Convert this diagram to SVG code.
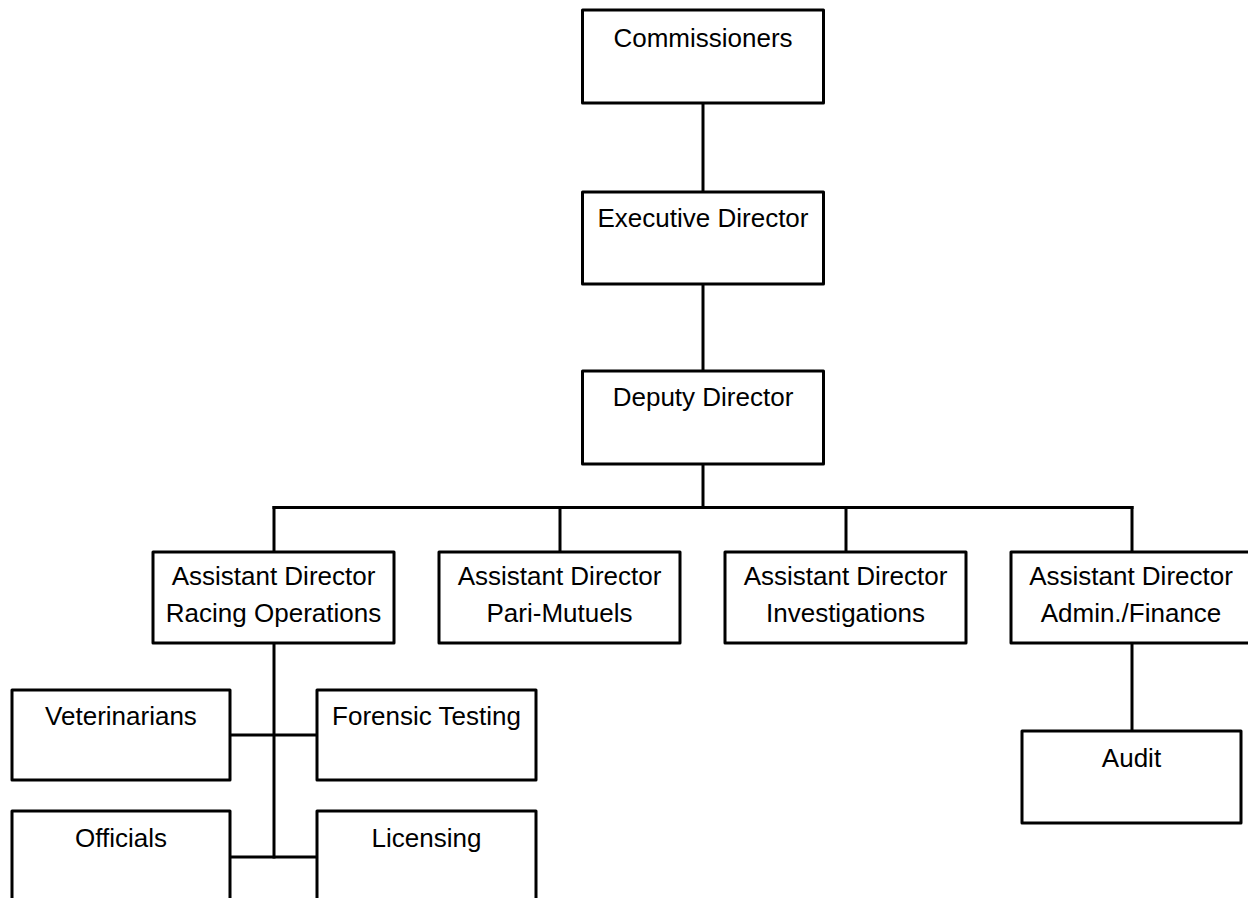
<svg xmlns="http://www.w3.org/2000/svg" width="1248" height="898" viewBox="0 0 1248 898">
<style>
.box{fill:#fff;stroke:#000;stroke-width:3;stroke-linejoin:round}
.lbl{font-family:"Liberation Sans",Arial,Helvetica,sans-serif;font-size:26px;fill:#000;text-anchor:middle}
.con{stroke:#000;stroke-width:3;fill:none;stroke-linecap:square}
</style>
<rect width="1248" height="898" fill="#fff"/>
<g id="connectors">
<line class="con" x1="703" y1="103" x2="703" y2="192"/>
<line class="con" x1="703" y1="284" x2="703" y2="371"/>
<line class="con" x1="703" y1="464" x2="703" y2="507.5"/>
<line class="con" x1="274" y1="507.5" x2="1132" y2="507.5"/>
<line class="con" x1="274" y1="507.5" x2="274" y2="552"/>
<line class="con" x1="560" y1="507.5" x2="560" y2="552"/>
<line class="con" x1="846" y1="507.5" x2="846" y2="552"/>
<line class="con" x1="1132" y1="507.5" x2="1132" y2="552"/>
<line class="con" x1="274" y1="643" x2="274" y2="857"/>
<line class="con" x1="230" y1="735" x2="317" y2="735"/>
<line class="con" x1="230" y1="857" x2="317" y2="857"/>
<line class="con" x1="1132" y1="643" x2="1132" y2="731"/>
</g>
<g id="commissioners">
<rect class="box" x="582.5" y="10" width="241" height="93"/>
<text class="lbl" x="703" y="47">Commissioners</text>
</g>
<g id="executive-director">
<rect class="box" x="582.5" y="192" width="241" height="92"/>
<text class="lbl" x="703" y="227">Executive Director</text>
</g>
<g id="deputy-director">
<rect class="box" x="582.5" y="371" width="241" height="93"/>
<text class="lbl" x="703" y="406">Deputy Director</text>
</g>
<g id="ad-racing">
<rect class="box" x="153" y="552" width="241" height="91"/>
<text class="lbl" x="273.5" y="585">Assistant Director</text>
<text class="lbl" x="273.5" y="622">Racing Operations</text>
</g>
<g id="ad-pari">
<rect class="box" x="439" y="552" width="241" height="91"/>
<text class="lbl" x="559.5" y="585">Assistant Director</text>
<text class="lbl" x="559.5" y="622">Pari-Mutuels</text>
</g>
<g id="ad-investigations">
<rect class="box" x="725" y="552" width="241" height="91"/>
<text class="lbl" x="845.5" y="585">Assistant Director</text>
<text class="lbl" x="845.5" y="622">Investigations</text>
</g>
<g id="ad-admin">
<rect class="box" x="1011" y="552" width="241" height="91"/>
<text class="lbl" x="1131" y="585">Assistant Director</text>
<text class="lbl" x="1131" y="622">Admin./Finance</text>
</g>
<g id="veterinarians">
<rect class="box" x="12" y="690" width="218" height="90"/>
<text class="lbl" x="121" y="725">Veterinarians</text>
</g>
<g id="forensic-testing">
<rect class="box" x="317" y="690" width="219" height="90"/>
<text class="lbl" x="426.5" y="725">Forensic Testing</text>
</g>
<g id="officials">
<rect class="box" x="12" y="811" width="218" height="95"/>
<text class="lbl" x="121" y="847">Officials</text>
</g>
<g id="licensing">
<rect class="box" x="317" y="811" width="219" height="95"/>
<text class="lbl" x="426.5" y="847">Licensing</text>
</g>
<g id="audit">
<rect class="box" x="1022" y="731" width="219" height="92"/>
<text class="lbl" x="1131.5" y="767">Audit</text>
</g>
</svg>
